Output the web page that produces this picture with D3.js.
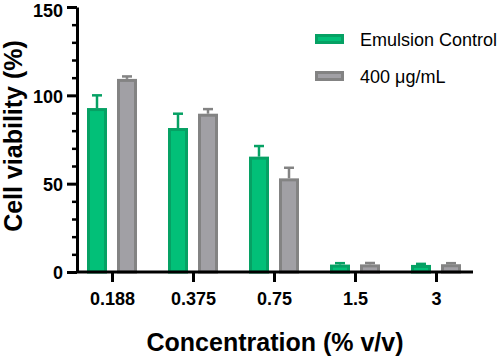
<!DOCTYPE html>
<html>
<head>
<meta charset="utf-8">
<script src="https://cdn.jsdelivr.net/npm/d3@7"></script>
<style>
  body { margin: 0; background: #fff; }
  text { font-family: "Liberation Sans", Arial, sans-serif; }
</style>
</head>
<body>
<div id="chart"></div>
<script>
// data
var concentrations = ["0.188", "0.375", "0.75", "1.5", "3"];
var seriesNames = ["Emulsion Control", "400 \u03bcg/mL"];
var emulsionMean = [92.8, 81.5, 65.3, 4.2, 4.0];
var emulsionErr = [7.2, 8.1, 6.0, 0.8, 0.6];
var ug400Mean = [109.3, 89.6, 53.0, 4.3, 4.4];
var ug400Err = [1.4, 2.6, 6.0, 0.8, 0.6];
var yMajorTicks = [0, 50, 100, 150];

var width = 498, height = 356;
var fills = ["#02c078", "#a1a0a5"];
var strokes = ["#06a164", "#838383"];

var svg = d3.select("#chart").append("svg")
    .attr("width", width)
    .attr("height", height);

var y = d3.scaleLinear().domain([0, 150]).range([272, 7]);
var x = d3.scalePoint().domain(concentrations).range([112, 436]);
var sub = d3.scaleBand().domain([0, 1]).range([-25, 25]).paddingInner(1 / 3);

var rows = [];
concentrations.forEach(function (c, i) {
    rows.push({ cat: c, s: 0, v: emulsionMean[i], e: emulsionErr[i] });
    rows.push({ cat: c, s: 1, v: ug400Mean[i], e: ug400Err[i] });
});

// error bars (upper only)
var err = svg.append("g").selectAll("g")
    .data(rows)
    .join("g")
    .attr("stroke", d => strokes[d.s])
    .attr("stroke-width", 2.5);
err.append("line")
    .attr("x1", d => x(d.cat) + sub(d.s) + sub.bandwidth() / 2)
    .attr("x2", d => x(d.cat) + sub(d.s) + sub.bandwidth() / 2)
    .attr("y1", d => y(d.v))
    .attr("y2", d => y(d.v + d.e));
err.append("line")
    .attr("x1", d => x(d.cat) + sub(d.s) + sub.bandwidth() / 2 - 5)
    .attr("x2", d => x(d.cat) + sub(d.s) + sub.bandwidth() / 2 + 5)
    .attr("y1", d => y(d.v + d.e))
    .attr("y2", d => y(d.v + d.e));

// bars
svg.append("g").selectAll("rect")
    .data(rows)
    .join("rect")
    .attr("x", d => x(d.cat) + sub(d.s) + 1.5)
    .attr("y", d => y(d.v) + 1.5)
    .attr("width", sub.bandwidth() - 3)
    .attr("height", d => y(0) - y(d.v) - 1.5)
    .attr("fill", d => fills[d.s])
    .attr("stroke", d => strokes[d.s])
    .attr("stroke-width", 3);

// y axis: major + minor ticks
var yAxis = svg.append("g")
    .attr("transform", "translate(77,0)")
    .call(d3.axisLeft(y).tickValues(yMajorTicks).tickSize(10).tickPadding(4).tickSizeOuter(0));
svg.append("g")
    .attr("transform", "translate(77,0)")
    .call(d3.axisLeft(y).tickValues(d3.range(0, 151, 10).filter(v => v % 50 != 0)).tickSize(5).tickFormat(""))
    .call(g => g.select(".domain").remove())
    .selectAll("line").attr("stroke", "#000").attr("stroke-width", 2.5);
yAxis.select(".domain").attr("stroke-width", 3);
yAxis.selectAll(".tick line").attr("stroke-width", 3);
yAxis.selectAll("text")
    .attr("dy", d => d == 150 ? "0.53em" : "0.38em") // keep the top label inside the frame
    .style("font-size", "18px").style("font-weight", "bold").attr("fill", "#000");

// x axis
var xAxis = svg.append("g")
    .attr("transform", "translate(0,272)")
    .call(d3.axisBottom(x).tickSize(10).tickPadding(10).tickSizeOuter(0));
xAxis.select(".domain").attr("d", "M76,0H473").attr("stroke-width", 3);
xAxis.selectAll(".tick line").attr("stroke-width", 3);
xAxis.selectAll("text")
    .style("font-size", "18px").style("font-weight", "bold").attr("fill", "#000");

// axis titles
svg.append("text")
    .attr("x", 275)
    .attr("y", 351)
    .attr("text-anchor", "middle")
    .style("font-size", "25px")
    .style("font-weight", "bold")
    .text("Concentration (% v/v)");

svg.append("text")
    .attr("transform", "translate(22,136) rotate(-90)")
    .attr("text-anchor", "middle")
    .style("font-size", "25px")
    .style("font-weight", "bold")
    .text("Cell viability (%)");

// legend
var legend = svg.append("g").selectAll("g")
    .data(seriesNames)
    .join("g")
    .attr("transform", (d, i) => "translate(315," + (34 + i * 37) + ")");
legend.append("rect")
    .attr("x", 1.5).attr("y", 1.5)
    .attr("width", 26).attr("height", 7)
    .attr("fill", (d, i) => fills[i])
    .attr("stroke", (d, i) => strokes[i])
    .attr("stroke-width", 3);
legend.append("text")
    .attr("x", 45)
    .attr("y", 12)
    .style("font-size", "18px")
    .text(d => d);
</script>
</body>
</html>
